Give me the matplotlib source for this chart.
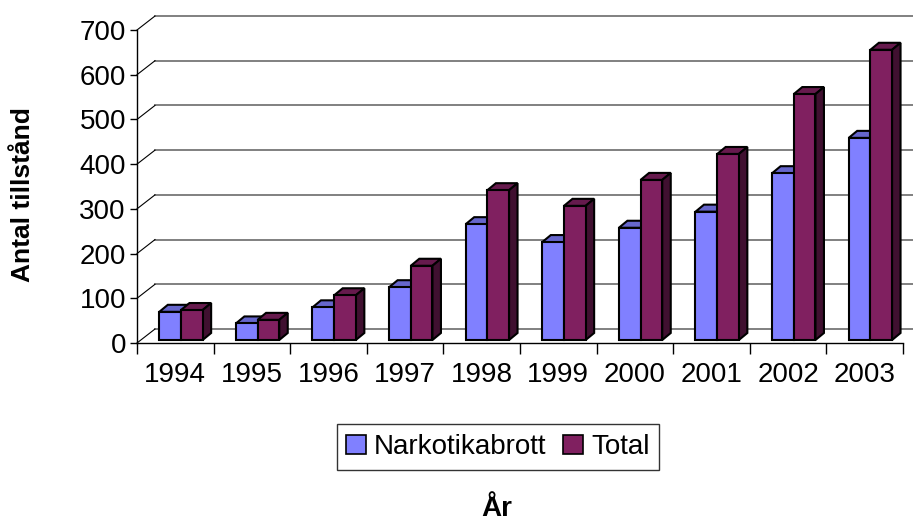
import matplotlib

matplotlib.use("Agg")
import matplotlib.pyplot as plt
from matplotlib.patches import Polygon, Patch

plt.rcParams["font.family"] = ["Liberation Sans", "DejaVu Sans"]

years = ["1994", "1995", "1996", "1997", "1998", "1999", "2000", "2001", "2002", "2003"]
narkotika = [63, 37, 73, 118, 259, 219, 251, 287, 373, 452]
total = [67, 45, 100, 166, 335, 300, 358, 416, 550, 649]
yticks = [0, 100, 200, 300, 400, 500, 600, 700]

COL = {
    "blue": "#8080FF", "blue_top": "#6666CC", "blue_side": "#40407F",
    "maroon": "#802060", "maroon_top": "#661A4D", "maroon_side": "#401030",
    "grid": "#808080",
}

# oblique depth (data units: x in categories, y in values)
WALL_DX, WALL_DY = 0.235, 31.3
BAR_DX, BAR_DY = 0.111, 15.7
BAR_W = 0.283
BAR_X0 = 0.291 - 0.5      # left edge of first bar inside category
BAR_Y0 = 6.7              # bar plane sits slightly behind the front axis

W, H = 913, 525
fig = plt.figure(figsize=(W / 100, H / 100), dpi=100, facecolor="white")
ax = fig.add_axes([137 / W, 1 - 343 / H, (903 - 137) / W, (343 - 30) / H])
ax.set_xlim(-0.5, len(years) - 0.5)
ax.set_ylim(0, 700)

# back wall gridlines + side wall diagonals
for v in yticks:
    ax.plot([-0.5 + WALL_DX, len(years) - 0.5 + WALL_DX], [v + WALL_DY, v + WALL_DY],
            color=COL["grid"], lw=1.4, clip_on=False, zorder=1)
    ax.plot([-0.5, -0.5 + WALL_DX], [v, v + WALL_DY], color="black", lw=0.8,
            clip_on=False, zorder=1)


def draw_bar(x, h, face, top, side, z):
    y0 = BAR_Y0
    xr = x + BAR_W
    ax.add_patch(Polygon([(x, y0 + h), (xr, y0 + h), (xr + BAR_DX, y0 + h + BAR_DY),
                          (x + BAR_DX, y0 + h + BAR_DY)], closed=True, facecolor=top,
                         edgecolor="black", lw=1.5, clip_on=False, zorder=z))
    ax.add_patch(Polygon([(xr, y0), (xr, y0 + h), (xr + BAR_DX, y0 + h + BAR_DY),
                          (xr + BAR_DX, y0 + BAR_DY)], closed=True, facecolor=side,
                         edgecolor="black", lw=1.5, clip_on=False, zorder=z))
    ax.bar(x, h, width=BAR_W, bottom=y0, align="edge", color=face, edgecolor="black",
           lw=1.5, clip_on=False, zorder=z + 0.5)


for i in range(len(years)):
    xb = i + BAR_X0
    draw_bar(xb, narkotika[i], COL["blue"], COL["blue_top"], COL["blue_side"], 3 + i * 2)
    draw_bar(xb + BAR_W, total[i], COL["maroon"], COL["maroon_top"], COL["maroon_side"],
             4 + i * 2)

for s in ("top", "right"):
    ax.spines[s].set_visible(False)
for s in ("left", "bottom"):
    ax.spines[s].set_linewidth(1.0)
    ax.spines[s].set_color("black")

ax.set_yticks(yticks)
ax.tick_params(axis="y", direction="out", length=5, width=1, labelsize=20, pad=3)
ax.set_xticks([i - 0.5 for i in range(len(years) + 1)])
ax.set_xticklabels([])
ax.set_xticks(range(len(years)), minor=True)
ax.set_xticklabels(years, minor=True)
ax.tick_params(axis="x", which="major", direction="out", length=8, width=1)
ax.tick_params(axis="x", which="minor", length=0, labelsize=20, pad=14)

fig.text(23 / W, 1 - 195 / H, "Antal tillstånd", rotation=90, ha="center", va="center",
         fontsize=19, fontweight="bold")
fig.text(497 / W, 3 / H, "År", ha="center", va="bottom", fontsize=20,
         fontweight="bold")

handles = [Patch(facecolor=COL["blue"], edgecolor="black", lw=1.2),
           Patch(facecolor=COL["maroon"], edgecolor="black", lw=1.2)]
leg = fig.legend(handles, ["Narkotikabrott", "Total"], loc="center",
                 bbox_to_anchor=(498 / W, 1 - 447 / H), ncol=2, fontsize=20,
                 frameon=True, fancybox=False, handlelength=0.7, handleheight=0.7,
                 handletextpad=0.3, columnspacing=0.6, borderpad=0.35, borderaxespad=0)
leg.get_frame().set_edgecolor("black")
leg.get_frame().set_linewidth(1.0)

fig.savefig("out.png", dpi=100, facecolor="white")
